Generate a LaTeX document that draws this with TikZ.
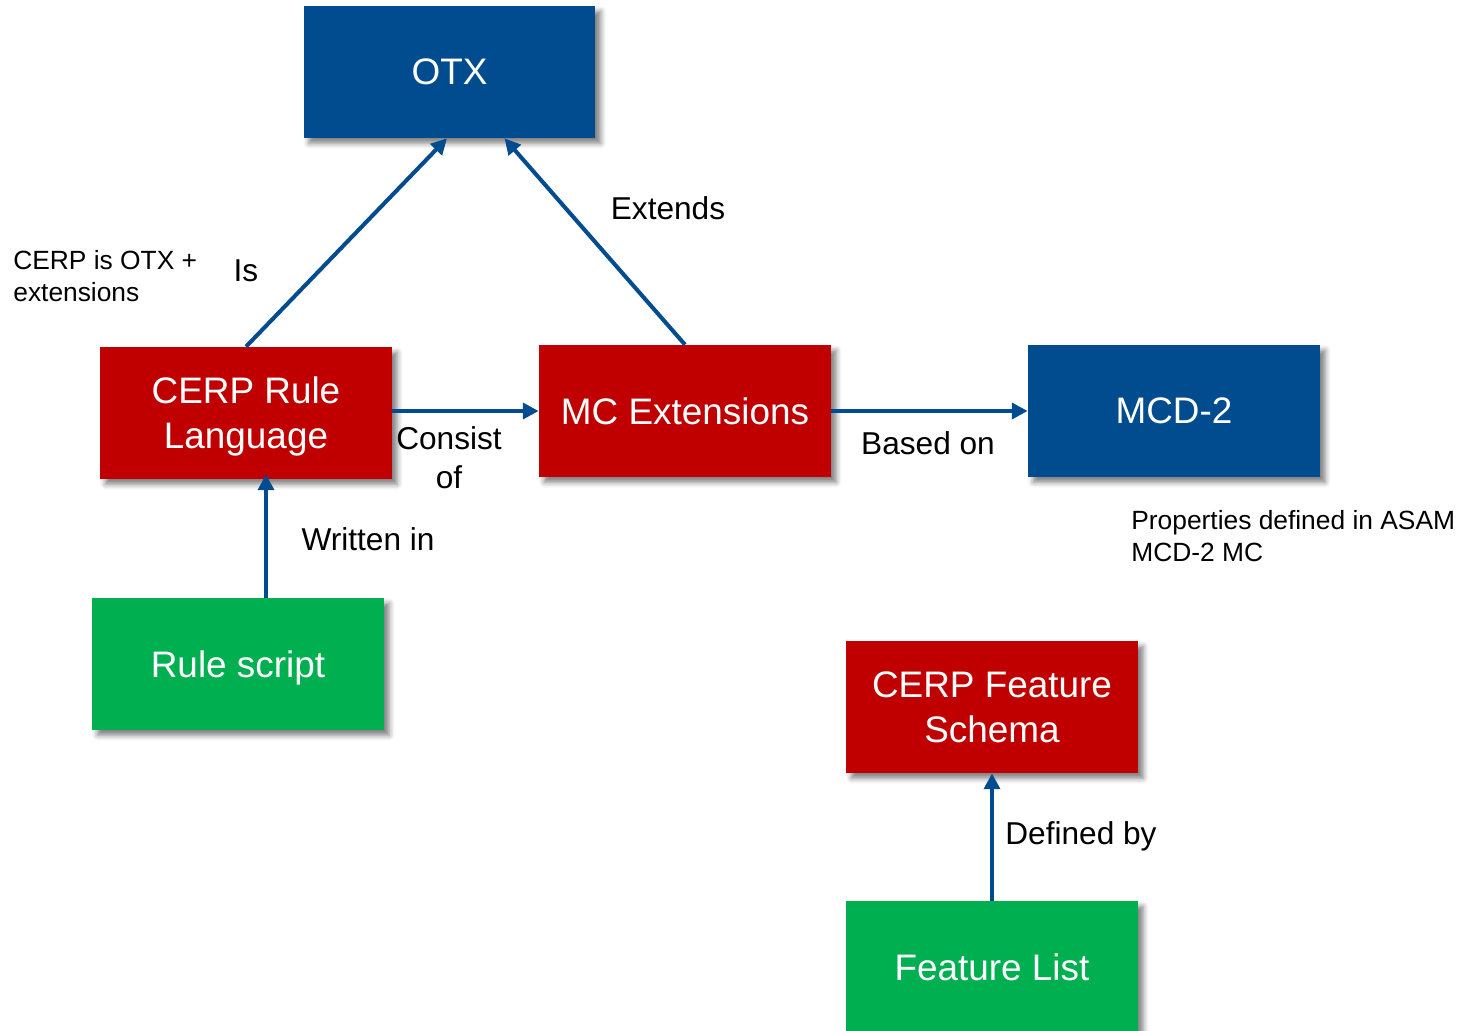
\documentclass[tikz,border=0pt]{standalone}
\usepackage{fontspec}
\setmainfont{Liberation Sans}
\usetikzlibrary{arrows.meta,shadows.blur}
\definecolor{otxblue}{RGB}{0,76,143}
\definecolor{cerpred}{RGB}{192,0,0}
\definecolor{cerpgreen}{RGB}{0,176,80}

\begin{document}
\begin{tikzpicture}[x=0.02cm,y=-0.02cm,
	box/.style={minimum width=5.84cm,minimum height=2.64cm,inner sep=0pt,
		text=white,align=center,font=\fontsize{21}{25.5}\selectfont,text depth=0pt,
		blur shadow={shadow xshift=3pt,shadow yshift=-3pt,shadow blur radius=3pt,shadow opacity=50}},
	bluebox/.style={box,fill=otxblue},
	redbox/.style={box,fill=cerpred},
	greenbox/.style={box,fill=cerpgreen},
	link/.style={draw=otxblue,line width=2.3pt,-{Triangle[length=9pt,width=9pt]}},
	lbl/.style={inner sep=0pt,align=center,font=\fontsize{18}{22}\selectfont},
	note/.style={inner sep=0pt,align=left,anchor=west,font=\fontsize{15}{18.2}\selectfont}]
	\useasboundingbox (0,0) rectangle (1472,1031);

	% boxes
	\node[bluebox] (otx) at (449.5,72) {OTX};
	\node[redbox] (cerp) at (246,413) {CERP Rule\\Language};
	\node[redbox] (mc) at (685,411) {MC Extensions};
	\node[bluebox] (mcd) at (1174,411) {MCD-2};
	\node[greenbox] (rule) at (238,664) {Rule script};
	\node[redbox] (schema) at (992,707) {CERP Feature\\Schema};
	\node[greenbox] (feat) at (992,967) {Feature List};

	% links
	\draw[link] (cerp.north) -- ([xshift=-0.05cm]otx.south);
	\draw[link] (mc.north) -- ([xshift=1.1cm]otx.south);
	\draw[link] (cerp.east |- mc.west) -- (mc.west);
	\draw[link] (mc.east) -- (mcd.west);
	\draw[link] ([xshift=0.56cm]rule.north) -- ([xshift=0.56cm,yshift=0.1cm]rule.north |- cerp.south);
	\draw[link] (feat.north) -- (schema.south);

	% link labels
	\node[lbl] (is) at (246,271) {Is};
	\node[lbl] (extends) at (668,208) {Extends};
	\node[lbl] (consist) at (449,458) {Consist\\of};
	\node[lbl] (based) at (928,443) {Based on};
	\node[lbl] (written) at (368,539) {Written in};
	\node[lbl] (defined) at (1081,836) {Defined by};

	% notes
	\node[note] (isnote) at (13,276) {CERP is OTX +\\extensions};
	\node[note] (mcdnote) at (1131,536) {Properties defined in ASAM\\MCD-2 MC};
\end{tikzpicture}
\end{document}
